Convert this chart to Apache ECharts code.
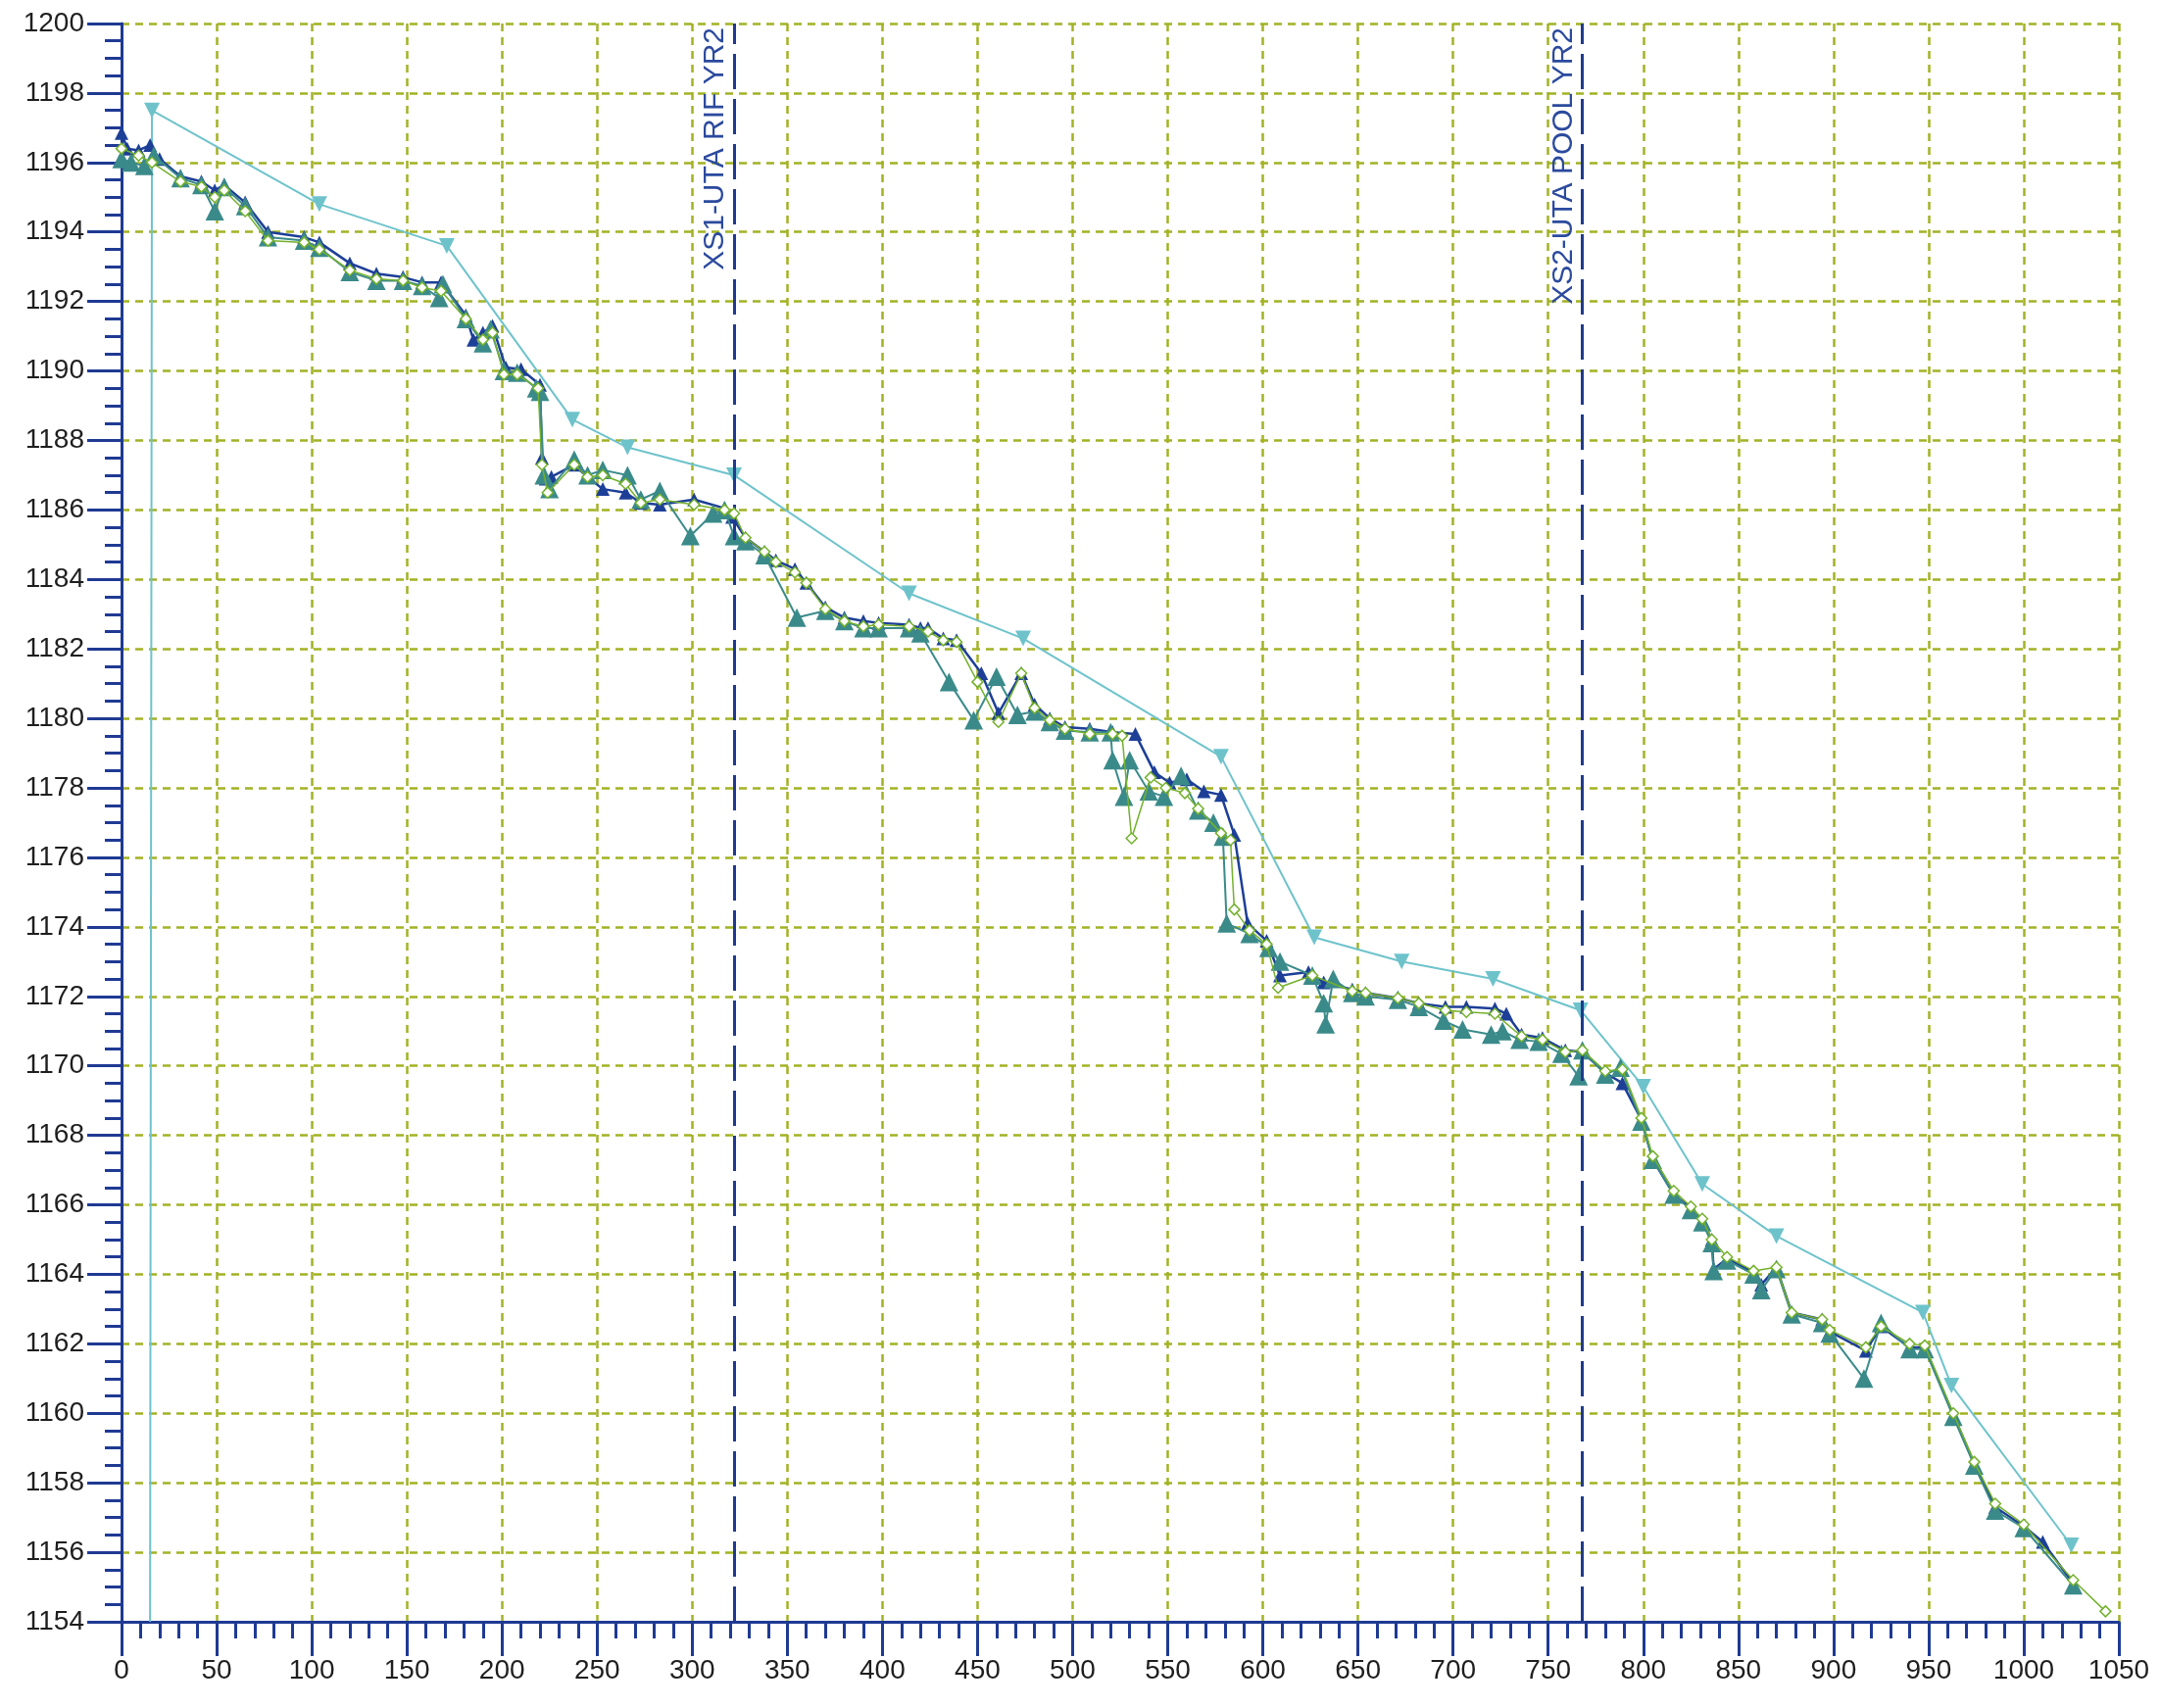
<!DOCTYPE html>
<html><head><meta charset="utf-8">
<script src="https://cdn.jsdelivr.net/npm/echarts@6/dist/echarts.min.js"></script>
<style>html,body{margin:0;padding:0;background:#fff}#c{width:2204px;height:1743px}</style>
</head><body><div id="c"></div>
<script>
// ---- data (station, elevation) ----
const sectionNames = ['XS1-UTA RIF YR2', 'XS2-UTA POOL YR2'];
const sectionStations = [322, 768];

const xRange = [0, 1050];
const yRange = [1154, 1200];

// light cyan survey (down triangles)
const surveyProfile = [
  [15,1154],[16,1197.5],[104,1194.8],[171,1193.6],[237,1188.6],[266,1187.8],[322,1187.0],
  [414,1183.6],[474,1182.3],[578,1178.9],[627,1173.7],[673,1173.0],[721,1172.5],[767,1171.6],
  [800,1169.4],[831,1166.6],[870,1165.1],[947,1162.9],[962,1160.8],[1025,1156.2]
];

// dark blue profile (small triangles)
const blueProfile = [
  [0,1196.85],[3,1196.4],[9,1196.35],[15,1196.5],[20,1196.1],[31,1195.6],[42,1195.45],[49,1195.2],
  [54,1195.35],[65,1194.85],[77,1194.0],[96,1193.85],[104,1193.7],[120,1193.1],[134,1192.8],
  [148,1192.7],[158,1192.55],[168,1192.55],[181,1191.6],[185,1190.9],[190,1191.1],[195,1191.3],
  [202,1190.1],[210,1190.05],[220,1189.6],[221,1187.5],[223,1186.9],[226,1186.95],[238,1187.3],
  [245,1186.95],[253,1186.6],[265,1186.5],[273,1186.2],[283,1186.15],[301,1186.3],[317,1186.05],
  [321,1185.8],[328,1185.2],[338,1184.8],[344,1184.55],[354,1184.3],[360,1183.9],[370,1183.2],
  [380,1182.9],[390,1182.8],[398,1182.75],[414,1182.7],[420,1182.6],[424,1182.6],[432,1182.3],
  [439,1182.25],[452,1181.3],[461,1180.15],[473,1181.3],[480,1180.4],[488,1180.0],[496,1179.75],
  [509,1179.7],[521,1179.6],[533,1179.55],[543,1178.45],[551,1178.15],[560,1178.25],[569,1177.9],
  [578,1177.8],[585,1176.65],[592,1174.1],[602,1173.6],[609,1172.6],[624,1172.7],[632,1172.4],
  [647,1172.2],[654,1172.1],[671,1171.95],[682,1171.8],[696,1171.7],[707,1171.7],[722,1171.65],
  [728,1171.5],[736,1170.9],[747,1170.8],[759,1170.45],[768,1170.4],[780,1169.8],[789,1169.5],
  [799,1168.45],[805,1167.3],[816,1166.3],[825,1165.9],[831,1165.55],[836,1165.0],[837,1164.15],
  [844,1164.45],[858,1164.05],[862,1163.7],[870,1164.2],[878,1162.9],[894,1162.7],[898,1162.35],
  [917,1161.8],[925,1162.5],[940,1161.9],[948,1161.9],[963,1159.95],[974,1158.55],[985,1157.3],
  [1000,1156.75],[1010,1156.3],[1026,1155.1]
];

// teal profile (large triangles)
const tealProfile = [
  [0,1196.1],[5,1196.0],[12,1195.9],[17,1196.2],[31,1195.55],[42,1195.35],[49,1194.6],[54,1195.3],
  [65,1194.75],[77,1193.85],[96,1193.75],[104,1193.55],[120,1192.85],[134,1192.6],[148,1192.6],
  [158,1192.45],[167,1192.1],[169,1192.5],[181,1191.5],[190,1190.8],[194,1191.2],[201,1190.0],
  [208,1189.95],[218,1189.5],[220,1189.4],[222,1187.0],[225,1186.6],[238,1187.45],[245,1187.0],
  [253,1187.15],[266,1187.0],[273,1186.3],[283,1186.55],[299,1185.25],[311,1185.9],[317,1186.0],
  [322,1185.25],[328,1185.1],[338,1184.7],[355,1182.9],[370,1183.1],[380,1182.8],[390,1182.6],
  [398,1182.6],[414,1182.6],[420,1182.45],[435,1181.05],[448,1179.95],[460,1181.2],[471,1180.1],
  [480,1180.2],[488,1179.9],[496,1179.65],[509,1179.6],[520,1179.6],[521,1178.8],[527,1177.75],
  [530,1178.8],[540,1177.9],[548,1177.75],[557,1178.35],[566,1177.35],[574,1177.0],[579,1176.6],
  [581,1174.1],[593,1173.8],[603,1173.4],[609,1173.0],[626,1172.6],[632,1171.8],[633,1171.2],
  [637,1172.5],[647,1172.1],[654,1172.0],[671,1171.9],[682,1171.7],[695,1171.3],[705,1171.05],
  [720,1170.9],[726,1171.0],[735,1170.75],[745,1170.7],[757,1170.35],[766,1169.7],[768,1170.45],
  [780,1169.75],[788,1169.95],[799,1168.4],[805,1167.3],[816,1166.3],[825,1165.85],[831,1165.5],
  [836,1164.9],[837,1164.1],[844,1164.4],[858,1164.0],[862,1163.55],[870,1164.15],[878,1162.85],
  [894,1162.6],[898,1162.3],[916,1161.0],[925,1162.6],[940,1161.85],[948,1161.85],[963,1159.9],
  [974,1158.5],[985,1157.2],[1000,1156.7],[1026,1155.05]
];

// green profile (hollow diamonds)
const greenProfile = [
  [0,1196.4],[9,1196.2],[16,1196.0],[31,1195.45],[42,1195.3],[49,1195.0],[54,1195.2],[65,1194.6],
  [77,1193.75],[96,1193.7],[104,1193.5],[120,1192.9],[134,1192.65],[148,1192.6],[158,1192.4],
  [168,1192.3],[181,1191.5],[190,1190.9],[195,1191.1],[201,1189.9],[208,1189.9],[219,1189.5],
  [221,1187.3],[224,1186.5],[238,1187.3],[245,1186.95],[253,1187.0],[265,1186.75],[273,1186.2],
  [283,1186.3],[301,1186.15],[317,1186.0],[322,1185.9],[328,1185.2],[338,1184.8],[344,1184.5],
  [354,1184.2],[360,1183.9],[370,1183.15],[380,1182.8],[390,1182.65],[398,1182.7],[414,1182.65],
  [424,1182.5],[432,1182.25],[439,1182.2],[450,1181.05],[461,1179.9],[473,1181.3],[480,1180.3],
  [488,1179.95],[496,1179.7],[509,1179.55],[521,1179.55],[526,1179.5],[531,1176.55],[541,1178.3],
  [549,1178.0],[559,1177.85],[566,1177.4],[578,1176.7],[583,1176.5],[585,1174.5],[593,1173.9],
  [602,1173.5],[608,1172.25],[626,1172.6],[647,1172.15],[654,1172.1],[671,1171.95],[682,1171.8],
  [696,1171.6],[707,1171.55],[722,1171.5],[736,1170.85],[747,1170.75],[759,1170.4],[768,1170.45],
  [780,1169.85],[789,1169.9],[799,1168.5],[805,1167.4],[816,1166.4],[825,1165.95],[831,1165.6],
  [836,1165.0],[844,1164.5],[858,1164.1],[870,1164.2],[878,1162.9],[894,1162.7],[898,1162.4],
  [917,1161.9],[925,1162.5],[940,1162.0],[948,1161.95],[963,1160.0],[974,1158.6],[985,1157.4],
  [1000,1156.8],[1026,1155.2],[1043,1154.3]
];

// ---- styling ----
const AXIS = '#1f3a93';
const GRID = '#a3b224';
const FONT = "'Liberation Sans', Arial, sans-serif";

const chart = echarts.init(document.getElementById('c'), null, {renderer: 'canvas'});

const surveyData = surveyProfile.map((p, i) =>
  i === 0 ? {value: p, symbol: 'none'} : {value: p});

chart.setOption({
  animation: false,
  backgroundColor: '#ffffff',
  grid: {left: 124, right: 42, top: 24, bottom: 88, containLabel: false},
  xAxis: {
    type: 'value', min: xRange[0], max: xRange[1], interval: 50,
    axisLine: {show: true, onZero: false, lineStyle: {color: AXIS, width: 3}},
    axisTick: {show: true, length: 35, lineStyle: {color: AXIS, width: 3}},
    minorTick: {show: true, splitNumber: 5, length: 17, lineStyle: {color: AXIS, width: 3}},
    axisLabel: {margin: 36, fontSize: 28, color: '#1e1e1e', fontFamily: FONT, formatter: v => String(v)},
    splitLine: {show: true, lineStyle: {color: GRID, width: 2.5, type: [8, 6]}}
  },
  yAxis: {
    type: 'value', min: yRange[0], max: yRange[1], interval: 2,
    axisLine: {show: true, onZero: false, lineStyle: {color: AXIS, width: 3}},
    axisTick: {show: true, length: 35, lineStyle: {color: AXIS, width: 3}},
    minorTick: {show: true, splitNumber: 4, length: 17, lineStyle: {color: AXIS, width: 3}},
    axisLabel: {margin: 38, fontSize: 28, color: '#1e1e1e', fontFamily: FONT, formatter: v => String(v)},
    splitLine: {show: true, lineStyle: {color: GRID, width: 2.5, type: [8, 6]}}
  },
  series: [
    {
      name: 'survey', type: 'line', data: surveyData,
      symbol: 'triangle', symbolRotate: 180, symbolSize: 16,
      lineStyle: {color: '#6ec3cb', width: 2},
      itemStyle: {color: '#6ec3cb'},
      z: 2,
      markLine: {
        silent: true, symbol: 'none', animation: false,
        lineStyle: {color: '#1f3a8f', width: 3, type: [36, 10]},
        label: {
          show: true, position: 'insideEndTop', distance: 4,
          formatter: p => p.name, color: '#2b4a9e', fontSize: 30, fontFamily: FONT
        },
        data: sectionStations.map((v, i) => ({name: sectionNames[i], xAxis: v}))
      }
    },
    {
      name: 'blue', type: 'line', data: blueProfile,
      symbol: 'triangle', symbolSize: 14,
      lineStyle: {color: '#1d3f97', width: 2.5},
      itemStyle: {color: '#1d3f97'}, z: 3
    },
    {
      name: 'teal', type: 'line', data: tealProfile,
      symbol: 'triangle', symbolSize: 19,
      lineStyle: {color: '#3b8a8a', width: 2},
      itemStyle: {color: '#3b8a8a'}, z: 4
    },
    {
      name: 'green', type: 'line', data: greenProfile,
      symbol: 'diamond', symbolSize: 11,
      lineStyle: {color: '#74b12c', width: 1.5},
      itemStyle: {color: '#ffffff', borderColor: '#74b12c', borderWidth: 1.5}, z: 5
    }
  ]
});
</script>
</body></html>
